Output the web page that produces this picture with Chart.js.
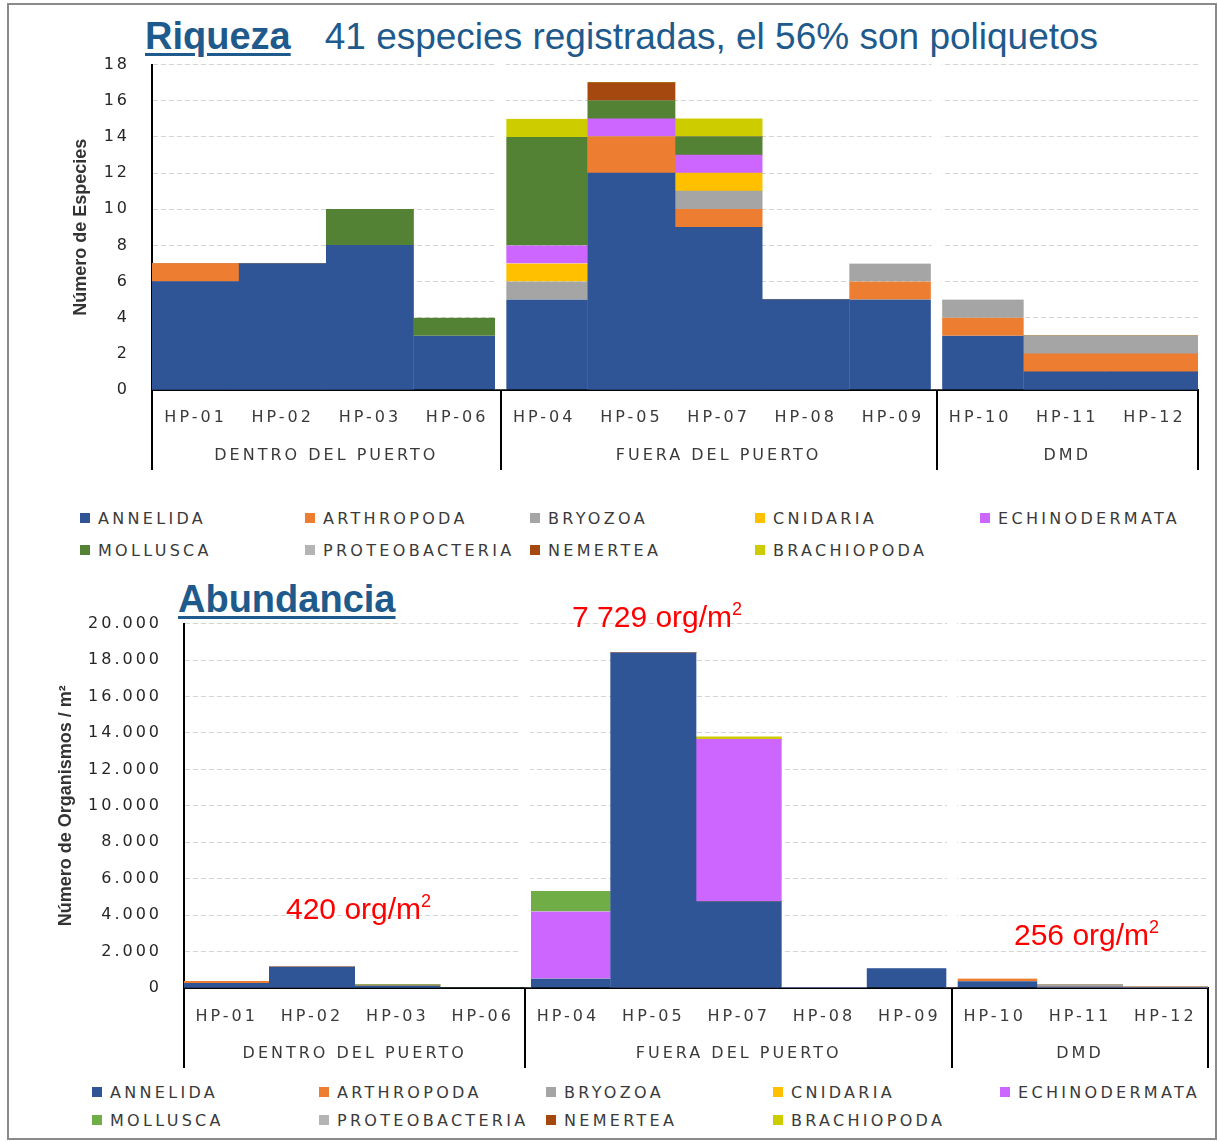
<!DOCTYPE html>
<html>
<head>
<meta charset="utf-8">
<script src="https://cdn.jsdelivr.net/npm/chart.js@4/dist/chart.umd.min.js"></script>
<style>
    body { margin: 0; background: #fff; }
    #wrap { position: relative; width: 1218px; height: 1141px; overflow: hidden; font-family: "DejaVu Sans", sans-serif; }
    .frame { position: absolute; left: 7px; top: 3px; width: 1206px; height: 1133px; border: 2px solid #8a8a8a; }
    .title { position: absolute; color: #1f5a8c; font-family: "Liberation Sans", Arial, sans-serif; white-space: nowrap; }
    .title b { text-decoration: underline; text-decoration-thickness: 3px; text-underline-offset: 4px; }
    .note { position: absolute; color: #ff0000; font-family: "Liberation Sans Narrow", "Liberation Sans", sans-serif; font-size: 30px; white-space: nowrap; }
    .note sup { font-size: 18px; vertical-align: 12px; line-height: 0; }
    .chart { position: absolute; left: 0; }
    .legend { position: absolute; display: grid; grid-template-columns: repeat(5, 225px); color: #3a3a3a; font-size: 16px; letter-spacing: 3.3px; }
    .legend div { display: flex; align-items: center; height: 32px; white-space: nowrap; }
    .legend span { display: inline-block; width: 10px; height: 10px; margin-right: 8px; }
</style>
</head>
<body>
<div id="wrap">
    <div class="frame"></div>
    <div class="title" style="left:145px; top:15px;"><b style="font-size:38px">Riqueza</b><span style="margin-left:34px; font-size:37px">41 especies registradas, el 56% son poliquetos</span></div>
    <canvas id="riqueza" class="chart" style="top:33px" width="1218" height="457"></canvas>
    <div id="legend1" class="legend" style="left:80px; top:502px;"></div>

    <div class="title" style="left:178px; top:578px;"><b style="font-size:38px">Abundancia</b></div>
    <canvas id="abundancia" class="chart" style="top:592px" width="1218" height="483"></canvas>
    <div id="legend2" class="legend" style="left:92px; top:1078px; grid-template-columns: repeat(5, 227px);"></div>

    <div class="note" style="left:572px; top:600px;">7 729 org/m<sup>2</sup></div>
    <div class="note" style="left:286px; top:892px;">420 org/m<sup>2</sup></div>
    <div class="note" style="left:1014px; top:918px;">256 org/m<sup>2</sup></div>
</div>

<script>
var stations = ['HP-01', 'HP-02', 'HP-03', 'HP-06', 'HP-04', 'HP-05', 'HP-07', 'HP-08', 'HP-09', 'HP-10', 'HP-11', 'HP-12'];
var zones = ['DENTRO DEL PUERTO', 'FUERA DEL PUERTO', 'DMD'];
var stationZone = [0, 0, 0, 0, 1, 1, 1, 1, 1, 2, 2, 2];
var phyla = ['ANNELIDA', 'ARTHROPODA', 'BRYOZOA', 'CNIDARIA', 'ECHINODERMATA', 'MOLLUSCA', 'PROTEOBACTERIA', 'NEMERTEA', 'BRACHIOPODA'];

// Riqueza: numero de especies por estacion
var richAnnelida       = [6, 7, 8, 3, 5, 12, 9, 5, 5, 3, 1, 1];
var richArthropoda     = [1, 0, 0, 0, 0, 2, 1, 0, 1, 1, 1, 1];
var richBryozoa        = [0, 0, 0, 0, 1, 0, 1, 0, 1, 1, 1, 1];
var richCnidaria       = [0, 0, 0, 0, 1, 0, 1, 0, 0, 0, 0, 0];
var richEchinodermata  = [0, 0, 0, 0, 1, 1, 1, 0, 0, 0, 0, 0];
var richMollusca       = [0, 0, 2, 1, 6, 1, 1, 0, 0, 0, 0, 0];
var richProteobacteria = [0, 0, 0, 0, 0, 0, 0, 0, 0, 0, 0, 0];
var richNemertea       = [0, 0, 0, 0, 0, 1, 0, 0, 0, 0, 0, 0];
var richBrachiopoda    = [0, 0, 0, 0, 1, 0, 1, 0, 0, 0, 0, 0];

// Abundancia: organismos / m2 por estacion
var abAnnelida       = [260, 1150, 110, 20, 520, 18400, 4750, 30, 1080, 370, 50, 20];
var abArthropoda     = [100, 0, 0, 0, 0, 0, 0, 0, 0, 150, 0, 0];
var abBryozoa        = [0, 0, 0, 0, 0, 0, 0, 0, 20, 0, 140, 40];
var abCnidaria       = [0, 0, 0, 0, 0, 0, 0, 0, 0, 0, 0, 0];
var abEchinodermata  = [0, 0, 0, 0, 3680, 0, 8900, 0, 0, 0, 0, 0];
var abMollusca       = [0, 0, 70, 10, 1130, 0, 0, 0, 0, 0, 0, 0];
var abProteobacteria = [0, 0, 0, 0, 0, 0, 0, 0, 0, 0, 0, 0];
var abNemertea       = [0, 0, 0, 0, 0, 0, 0, 0, 0, 0, 0, 0];
var abBrachiopoda    = [0, 0, 0, 0, 0, 0, 130, 0, 0, 0, 0, 0];

var richTicks = { max: 18, step: 2 };
var abTicks = { max: 20000, step: 2000 };

var COLORS_TOP = ['#2f5597', '#ed7d31', '#a5a5a5', '#ffc000', '#cc66ff', '#548235', '#b4b4b4', '#a5480f', '#cccc00'];
var COLORS_BOTTOM = ['#2f5597', '#ed7d31', '#a5a5a5', '#ffc000', '#cc66ff', '#70ad47', '#b4b4b4', '#a5480f', '#cccc00'];

var TEXT = '#3a3a3a';

// pixel edge between category i-1 and i
function edgeAt(chart, i) {
    var x = chart.scales.x, area = chart.chartArea;
    if (i <= 0) return area.left;
    if (i >= stations.length) return area.right;
    return (x.getPixelForValue(i - 1) + x.getPixelForValue(i)) / 2;
}

var zonePlugin = {
    id: 'zones',
    beforeDraw(chart) {
        // the labels of the original are drawn wide
        chart.ctx.letterSpacing = '3px';
    },
    beforeDatasetsDraw(chart) {
        // break the grid lines at each zone boundary
        var ctx = chart.ctx, area = chart.chartArea;
        ctx.save();
        ctx.fillStyle = '#fff';
        for (var i = 1; i < stations.length; i++) {
            if (stationZone[i] !== stationZone[i - 1]) {
                var ex = edgeAt(chart, i);
                ctx.fillRect(ex - 5, area.top - 3, 10, area.bottom - area.top);
            }
        }
        ctx.restore();
    },
    afterDraw(chart) {
        var ctx = chart.ctx, area = chart.chartArea;
        var opts = chart.options.plugins.zones;
        ctx.save();
        ctx.strokeStyle = '#000';
        ctx.lineWidth = 2;
        var cuts = [0];
        for (var i = 1; i < stations.length; i++) {
            if (stationZone[i] !== stationZone[i - 1]) cuts.push(i);
        }
        cuts.push(stations.length);
        cuts.forEach(c => {
            var ex = Math.round(edgeAt(chart, c));
            ctx.beginPath();
            ctx.moveTo(ex, area.bottom);
            ctx.lineTo(ex, area.bottom + 80);
            ctx.stroke();
        });
        ctx.fillStyle = TEXT;
        ctx.font = '16px "DejaVu Sans", sans-serif';
        ctx.textAlign = 'center';
        ctx.textBaseline = 'middle';
        zones.forEach((z, zi) => {
            var first = stationZone.indexOf(zi);
            var last = stationZone.lastIndexOf(zi);
            var mid = (edgeAt(chart, first) + edgeAt(chart, last + 1)) / 2;
            ctx.fillText(z, mid, area.bottom + 66);
        });

        // y axis title
        ctx.letterSpacing = '0px';
        ctx.fillStyle = '#333';
        ctx.font = 'bold 18px "Liberation Sans Narrow", "Liberation Sans", sans-serif';
        ctx.translate(chart.scales.y.left + 11, (area.top + area.bottom) / 2);
        ctx.rotate(-Math.PI / 2);
        ctx.fillText(opts.yTitle, 0, 0);
        ctx.restore();
        ctx.letterSpacing = '0px';
    }
};

function isZoneEdge(i, side) {
    if (side === 'left') return i > 0 && stationZone[i] !== stationZone[i - 1];
    return i < stations.length - 1 && stationZone[i] !== stationZone[i + 1];
}

function makeDatasets(series, colors) {
    return series.map((values, k) => ({
        label: phyla[k],
        data: values,
        backgroundColor: colors[k],
        borderColor: '#fff',
        borderSkipped: false,
        borderWidth: ctx => ({
            left: isZoneEdge(ctx.dataIndex, 'left') ? 6 : 0,
            right: isZoneEdge(ctx.dataIndex, 'right') ? 6 : 0,
            top: 0,
            bottom: 0
        }),
        barPercentage: 1,
        categoryPercentage: 1
    }));
}

function dotThousands(v) {
    return String(v).replace(/\B(?=(\d{3})+(?!\d))/g, '.');
}

function makeChart(id, series, colors, opts) {
    return new Chart(document.getElementById(id), {
        type: 'bar',
        data: { labels: stations, datasets: makeDatasets(series, colors) },
        options: {
            responsive: false,
            animation: false,
            devicePixelRatio: 1,
            layout: { padding: { left: opts.left, top: opts.top, right: opts.right, bottom: 0 } },
            plugins: {
                legend: { display: false },
                tooltip: { enabled: false },
                zones: { yTitle: opts.yTitle }
            },
            scales: {
                x: {
                    stacked: true,
                    grid: { display: false },
                    border: { display: true, color: '#000', width: 2 },
                    ticks: { color: TEXT, font: { family: '"DejaVu Sans", sans-serif', size: 16 }, padding: opts.xPad, maxRotation: 0, autoSkip: false },
                    afterFit: s => { s.height = opts.xHeight; }
                },
                y: {
                    stacked: true,
                    min: 0,
                    max: opts.ticks.max,
                    grid: { color: '#d4d4d4', lineWidth: 1, drawTicks: false },
                    border: { display: true, color: '#000', width: 2, dash: [5, 3] },
                    ticks: {
                        stepSize: opts.ticks.step,
                        color: '#262626',
                        padding: 22,
                        font: { family: '"DejaVu Sans", sans-serif', size: 16 },
                        callback: v => dotThousands(v)
                    },
                    afterFit: s => { s.width = opts.yWidth; }
                }
            }
        },
        plugins: [zonePlugin]
    });
}

var richSeries = [richAnnelida, richArthropoda, richBryozoa, richCnidaria, richEchinodermata, richMollusca, richProteobacteria, richNemertea, richBrachiopoda];
var abSeries = [abAnnelida, abArthropoda, abBryozoa, abCnidaria, abEchinodermata, abMollusca, abProteobacteria, abNemertea, abBrachiopoda];

makeChart('riqueza', richSeries, COLORS_TOP, {
    left: 70, top: 15, right: 20, xHeight: 100, yWidth: 82, xPad: 10,
    ticks: richTicks, yTitle: 'Número de Especies'
});

makeChart('abundancia', abSeries, COLORS_BOTTOM, {
    left: 55, top: 23, right: 10, xHeight: 87, yWidth: 129, xPad: 11,
    ticks: abTicks, yTitle: 'Número de Organismos / m²'
});

function fillLegend(id, colors) {
    var box = document.getElementById(id);
    phyla.forEach((p, k) => {
        var item = document.createElement('div');
        var sw = document.createElement('span');
        sw.style.background = colors[k];
        item.appendChild(sw);
        item.appendChild(document.createTextNode(p));
        box.appendChild(item);
    });
}
fillLegend('legend1', COLORS_TOP);
fillLegend('legend2', COLORS_BOTTOM);
document.querySelectorAll('#legend2 div').forEach(d => { d.style.height = '28px'; });
</script>
</body>
</html>
